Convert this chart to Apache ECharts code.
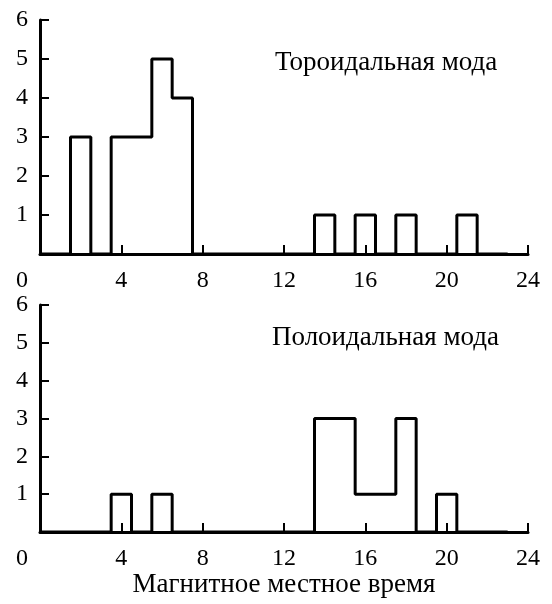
<!DOCTYPE html>
<html>
<head>
<meta charset="utf-8">
<script src="https://cdn.jsdelivr.net/npm/echarts@6/dist/echarts.min.js"></script>
<style>html,body{margin:0;padding:0;background:#fff}#c{width:552px;height:604px}</style>
</head>
<body>
<div id="c"></div>
<script>
// Hours (bin centres), 0..23
const hours = [0,1,2,3,4,5,6,7,8,9,10,11,12,13,14,15,16,17,18,19,20,21,22,23];
// Toroidal mode counts per hour
const toroidal = [0,0,3,0,3,3,5,4,0,0,0,0,0,0,1,0,1,0,1,0,0,1,0,0];
// Poloidal mode counts per hour
const poloidal = [0,0,0,0,1,0,1,0,0,0,0,0,0,0,3,3,1,1,3,0,1,0,0,0];
const xTicks = [0,4,8,12,16,20,24];
const yTicks = [0,1,2,3,4,5,6];
const titles = ['Тороидальная мода', 'Полоидальная мода'];
const xName = 'Магнитное местное время';

const FONT = '"Liberation Serif", "Times New Roman", serif';
const chart = echarts.init(document.getElementById('c'), null, {renderer: 'canvas'});

function xAxis(idx, withName) {
  return {
    gridIndex: idx, type: 'value', min: xTicks[0], max: xTicks[xTicks.length-1], interval: 4,
    axisLine: {lineStyle: {color: '#000', width: 3}},
    axisTick: {inside: true, length: 9, lineStyle: {color: '#000', width: 2}},
    splitLine: {show: false},
    axisLabel: {
      color: '#000', fontFamily: FONT, fontSize: 24, margin: 15,
      formatter: v => v === 0 ? '{z|0}' : String(v),
      rich: {z: {color: '#000', fontFamily: FONT, fontSize: 24, padding: [0, 36, 0, 0]}}
    },
    name: withName ? xName : '', nameLocation: 'middle', nameGap: 36,
    nameTextStyle: {color: '#000', fontFamily: FONT, fontSize: 27}
  };
}
function yAxis(idx) {
  return {
    gridIndex: idx, type: 'value', min: yTicks[0], max: yTicks[yTicks.length-1], interval: 1,
    axisLine: {lineStyle: {color: '#000', width: 3}},
    axisTick: {inside: true, length: 9, lineStyle: {color: '#000', width: 2}},
    splitLine: {show: false},
    axisLabel: {color: '#000', fontFamily: FONT, fontSize: 24, margin: 12,
      formatter: v => v === 0 ? '' : String(v)}
  };
}

chart.setOption({
  animation: false,
  backgroundColor: '#fff',
  title: [
    {text: titles[0], left: 275, top: 49, padding: 0, textStyle: {color: '#000', fontFamily: FONT, fontSize: 27, fontWeight: 'normal'}},
    {text: titles[1], left: 272, top: 324, padding: 0, textStyle: {color: '#000', fontFamily: FONT, fontSize: 27, fontWeight: 'normal'}}
  ],
  grid: [
    {left: 40, right: 24, top: 20, height: 234},
    {left: 40, right: 24, top: 305, height: 227}
  ],
  xAxis: [xAxis(0, false), xAxis(1, true)],
  yAxis: [yAxis(0), yAxis(1)],
  series: [
    {type: 'line', xAxisIndex: 0, yAxisIndex: 0, step: 'middle', symbol: 'none',
     lineStyle: {color: '#000', width: 3}, data: hours.map((h, i) => [h, toroidal[i]])},
    {type: 'line', xAxisIndex: 1, yAxisIndex: 1, step: 'middle', symbol: 'none',
     lineStyle: {color: '#000', width: 3}, data: hours.map((h, i) => [h, poloidal[i]])}
  ]
});
</script>
</body>
</html>
